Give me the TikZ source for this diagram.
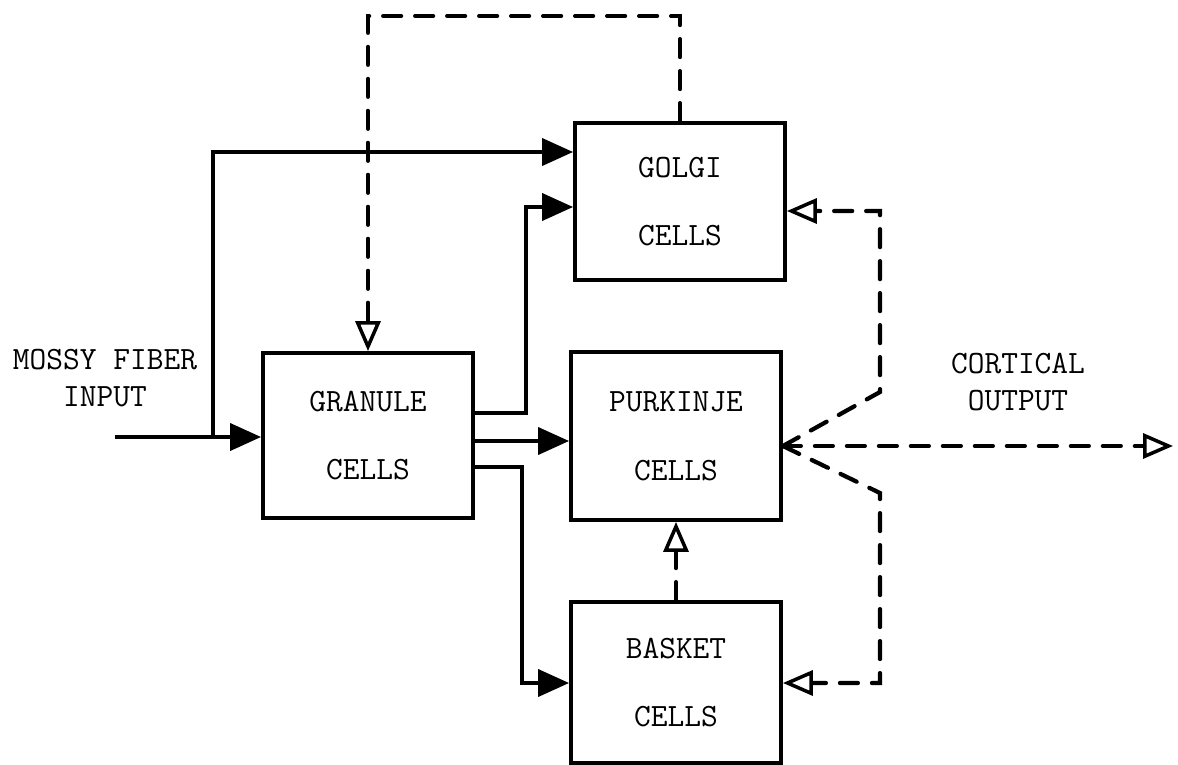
\documentclass[tikz,border=0pt]{standalone}
\usepackage{fontspec}
\usetikzlibrary{arrows.meta}

\begin{document}
\begin{tikzpicture}[x=0.02cm, y=-0.02cm,
    every node/.style={font=\fontsize{18.5}{21}\selectfont\ttfamily},
    cellbox/.style={draw, line width=2.2pt, align=center, minimum width=4.2cm,
      font=\fontsize{18.5}{39}\selectfont\ttfamily},
    feed/.style={line width=2.2pt, -{Triangle[length=0.62cm, width=0.54cm]}},
    inhib/.style={line width=2.4pt, line cap=round, dash pattern=on 0.36cm off 0.28cm,
      -{Triangle[open, length=0.6cm, width=0.5cm, line width=2pt]}},
  ]
  \useasboundingbox (0,0) rectangle (1178,765);

  \node[cellbox, minimum height=3.14cm] (golgi)    at (680,201.5) {GOLGI\\CELLS};
  \node[cellbox, minimum height=3.3cm]  (granule)  at (368,435.5) {GRANULE\\CELLS};
  \node[cellbox, minimum height=3.36cm] (purkinje) at (676,436)   {PURKINJE\\CELLS};
  \node[cellbox, minimum height=3.22cm] (basket)   at (676,682.5) {BASKET\\CELLS};

  \node[align=center] (mossy)    at (105,378) {MOSSY FIBER\\INPUT};
  \node[align=center] (cortical) at (1018,382) {CORTICAL\\OUTPUT};

  \coordinate (mf)    at (115,437);
  \coordinate (split) at (213,437);
  \coordinate (pout)  at (purkinje.east |- 0,446);
  \coordinate (out)   at (1173,446);

  % Mossy fibre input
  \draw[feed] (mf) -- (granule.west |- mf);
  \draw[feed] (split) |- (golgi.west |- 0,152);

  % Granule cell (parallel fibre) outputs
  \draw[feed] (granule.east |- 0,413) -| (526,207) -- (golgi.west |- 0,207);
  \draw[feed] (granule.east |- 0,441) -- (purkinje.west |- 0,441);
  \draw[feed] (granule.east |- 0,467) -| (522,683) -- (basket.west |- 0,683);

  % Inhibitory links
  \draw[inhib] (golgi.north) |- (granule.north |- 0,16) -- (granule.north);
  \draw[inhib] (basket.north) -- (purkinje.south);
  \draw[inhib] (pout) -- (880,392) |- (golgi.east |- 0,211);
  \draw[inhib] (pout) -- (880,493) |- (basket.east |- 0,683);
  \draw[inhib] (pout) -- (out);
\end{tikzpicture}
\end{document}
